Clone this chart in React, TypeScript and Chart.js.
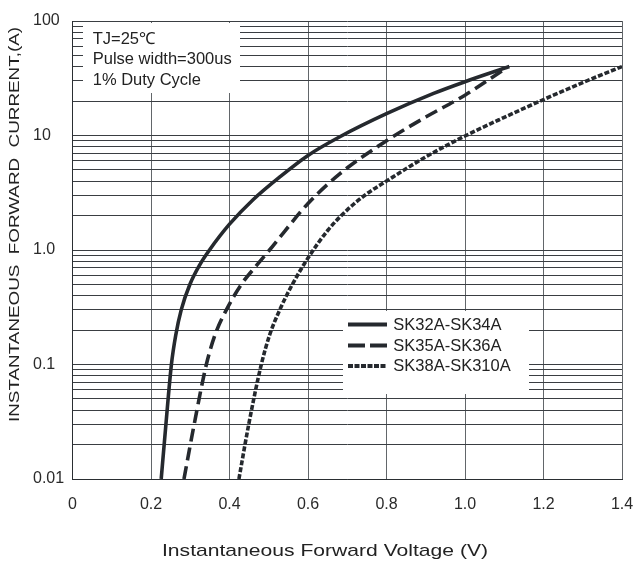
import { useEffect, useRef } from 'react';
import { Chart, registerables } from 'chart.js';

Chart.register(...registerables);

// ---- data ----
const seriesLabels = ['SK32A-SK34A', 'SK35A-SK36A', 'SK38A-SK310A'];

const voltsSK32 = [0.226, 0.238, 0.252, 0.263, 0.277, 0.299, 0.325, 0.349, 0.4, 0.46, 0.53, 0.6, 0.68, 0.8, 0.92, 1.0, 1.113];
const ampsSK32 = [0.01, 0.03, 0.1, 0.18, 0.3, 0.5, 0.75, 1.0, 1.68, 2.75, 4.4, 6.7, 9.7, 15.5, 23.3, 29.5, 40];

const voltsSK35 = [0.284, 0.31, 0.341, 0.364, 0.392, 0.43, 0.47, 0.502, 0.54, 0.6, 0.68, 0.8, 0.9, 1.0, 1.096];
const ampsSK35 = [0.01, 0.03, 0.1, 0.185, 0.3, 0.5, 0.74, 1.0, 1.45, 2.55, 4.6, 9.0, 14.5, 22.5, 37];

const voltsSK38 = [0.424, 0.449, 0.481, 0.502, 0.528, 0.56, 0.6, 0.65, 0.7, 0.75, 0.8, 0.9, 1.0, 1.1, 1.2, 1.3, 1.4];
const ampsSK38 = [0.01, 0.03, 0.1, 0.18, 0.3, 0.5, 0.85, 1.48, 2.24, 3.1, 4.0, 6.5, 9.9, 14.4, 20.6, 29, 40];

const xTickValues = [0, 0.2, 0.4, 0.6, 0.8, 1.0, 1.2, 1.4];
const xTickLabels = ['0', '0.2', '0.4', '0.6', '0.8', '1.0', '1.2', '1.4'];
const yDecades = [0.01, 0.1, 1, 10];
const yMultipliers = [1, 2, 3, 4, 5, 6, 7, 8, 9];
const yMajorTicks = [0.01, 0.1, 1, 10, 100];
const yTickLabels = ['0.01', '0.1', '1.0', '10', '100'];

const noteLines = ['TJ=25\u2103', 'Pulse width=300us', '1% Duty Cycle'];
const xTitle = 'Instantaneous Forward Voltage (V)';
const yTitle = 'INSTANTANEOUS  FORWARD  CURRENT,(A)';

const FONT = '"Liberation Sans", Arial, Helvetica, sans-serif';
const INK = '#25292e';

function pts(xs: number[], ys: number[]) {
  return xs.map((x, i) => ({ x, y: ys[i] }));
}

function drawStretched(ctx: CanvasRenderingContext2D, text: string, cx: number, cy: number, target: number, size: number, rotate: boolean) {
  ctx.save();
  ctx.translate(cx, cy);
  if (rotate) ctx.rotate(-Math.PI / 2);
  ctx.font = `${size}px ${FONT}`;
  const w = ctx.measureText(text).width;
  ctx.scale(target / w, 1);
  ctx.fillStyle = '#222';
  ctx.textAlign = 'center';
  ctx.textBaseline = 'middle';
  ctx.fillText(text, 0, 0);
  ctx.restore();
}

const boxesPlugin = {
  id: 'boxes',
  beforeDatasetsDraw(chart: any) {
    const ctx: CanvasRenderingContext2D = chart.ctx;
    ctx.save();
    ctx.fillStyle = '#ffffff';
    // note box
    ctx.fillRect(83, 23, 157, 70);
    // legend box
    ctx.fillRect(343, 311, 186, 83);

    ctx.fillStyle = '#222';
    ctx.font = `16.5px ${FONT}`;
    ctx.textAlign = 'left';
    ctx.textBaseline = 'middle';
    noteLines.forEach((t, i) => ctx.fillText(t, 92.7, 39 + i * 20.5));

    const rows = [324.5, 345.5, 366];
    chart.data.datasets.forEach((ds: any, i: number) => {
      ctx.save();
      ctx.strokeStyle = ds.borderColor;
      ctx.lineWidth = 3.8;
      ctx.setLineDash(ds.legendDash || []);
      ctx.beginPath();
      ctx.moveTo(348, rows[i]);
      ctx.lineTo(387, rows[i]);
      ctx.stroke();
      ctx.restore();
      ctx.fillStyle = '#222';
      ctx.font = `16.5px ${FONT}`;
      ctx.fillText(ds.label, 393.3, rows[i] + 0.5);
    });
    ctx.restore();
  },
  afterDraw(chart: any) {
    const ctx: CanvasRenderingContext2D = chart.ctx;
    drawStretched(ctx, xTitle, 325, 551, 326, 17, false);
    drawStretched(ctx, yTitle, 15, 224.5, 395, 15, true);
  },
};

export default function App() {
  const ref = useRef<HTMLCanvasElement | null>(null);

  useEffect(() => {
    if (!ref.current) return;
    const yGridValues: number[] = [];
    yDecades.forEach((d) => yMultipliers.forEach((m) => yGridValues.push(Number((d * m).toPrecision(6)))));
    yGridValues.push(100);

    const base = {
      borderColor: INK,
      borderWidth: 3.6,
      pointRadius: 0,
      fill: false,
      cubicInterpolationMode: 'monotone' as const,
    };

    const chart = new Chart(ref.current, {
      type: 'line',
      data: {
        datasets: [
          { ...base, label: seriesLabels[0], data: pts(voltsSK32, ampsSK32), legendDash: [] } as any,
          { ...base, label: seriesLabels[1], data: pts(voltsSK35, ampsSK35), borderDash: [13, 6], legendDash: [17, 5] } as any,
          { ...base, label: seriesLabels[2], data: pts(voltsSK38, ampsSK38), borderDash: [5, 2], legendDash: [5, 1.5] } as any,
        ],
      },
      options: {
        responsive: false,
        animation: false,
        devicePixelRatio: 1,
        layout: { padding: { left: 33, top: 21, right: 13, bottom: 0 } },
        plugins: {
          legend: { display: false },
          tooltip: { enabled: false },
          title: { display: false },
        },
        scales: {
          x: {
            type: 'linear',
            min: 0,
            max: 1.4,
            afterBuildTicks: (scale: any) => {
              scale.ticks = xTickValues.map((v) => ({ value: v }));
            },
            afterFit: (scale: any) => {
              scale.height = 86;
              scale.paddingLeft = 0;
              scale.paddingRight = 0;
            },
            ticks: {
              autoSkip: false,
              maxRotation: 0,
              padding: 16,
              color: '#2a2a2a',
              font: { family: FONT, size: 16 },
              callback: (_v: any, i: number) => xTickLabels[i],
            },
            grid: { color: '#62666a', lineWidth: 1, drawTicks: false },
            border: { display: true, color: '#2a2e32', width: 1 },
          },
          y: {
            type: 'logarithmic',
            min: 0.01,
            max: 100,
            afterBuildTicks: (scale: any) => {
              scale.ticks = yGridValues.map((v) => ({ value: v }));
            },
            afterFit: (scale: any) => {
              scale.width = 39.5;
              scale.paddingTop = 0;
              scale.paddingBottom = 0;
            },
            ticks: {
              autoSkip: false,
              crossAlign: 'far',
              padding: 0,
              color: '#2a2a2a',
              font: { family: FONT, size: 16 },
              callback: (v: any) => {
                const idx = yMajorTicks.findIndex((m) => Math.abs(m - Number(v)) / m < 1e-6);
                return idx >= 0 ? yTickLabels[idx] : '';
              },
            },
            grid: { color: '#3a3e42', lineWidth: 1, drawTicks: false },
            border: { display: true, color: '#2a2e32', width: 1 },
          },
        },
      },
      plugins: [boxesPlugin],
    } as any);

    return () => chart.destroy();
  }, []);

  return (
    <div style={{ position: 'fixed', left: 0, top: 0, width: 635, height: 565, background: '#fff' }}>
      <canvas ref={ref} width={635} height={565} style={{ display: 'block', width: 635, height: 565 }} />
    </div>
  );
}
